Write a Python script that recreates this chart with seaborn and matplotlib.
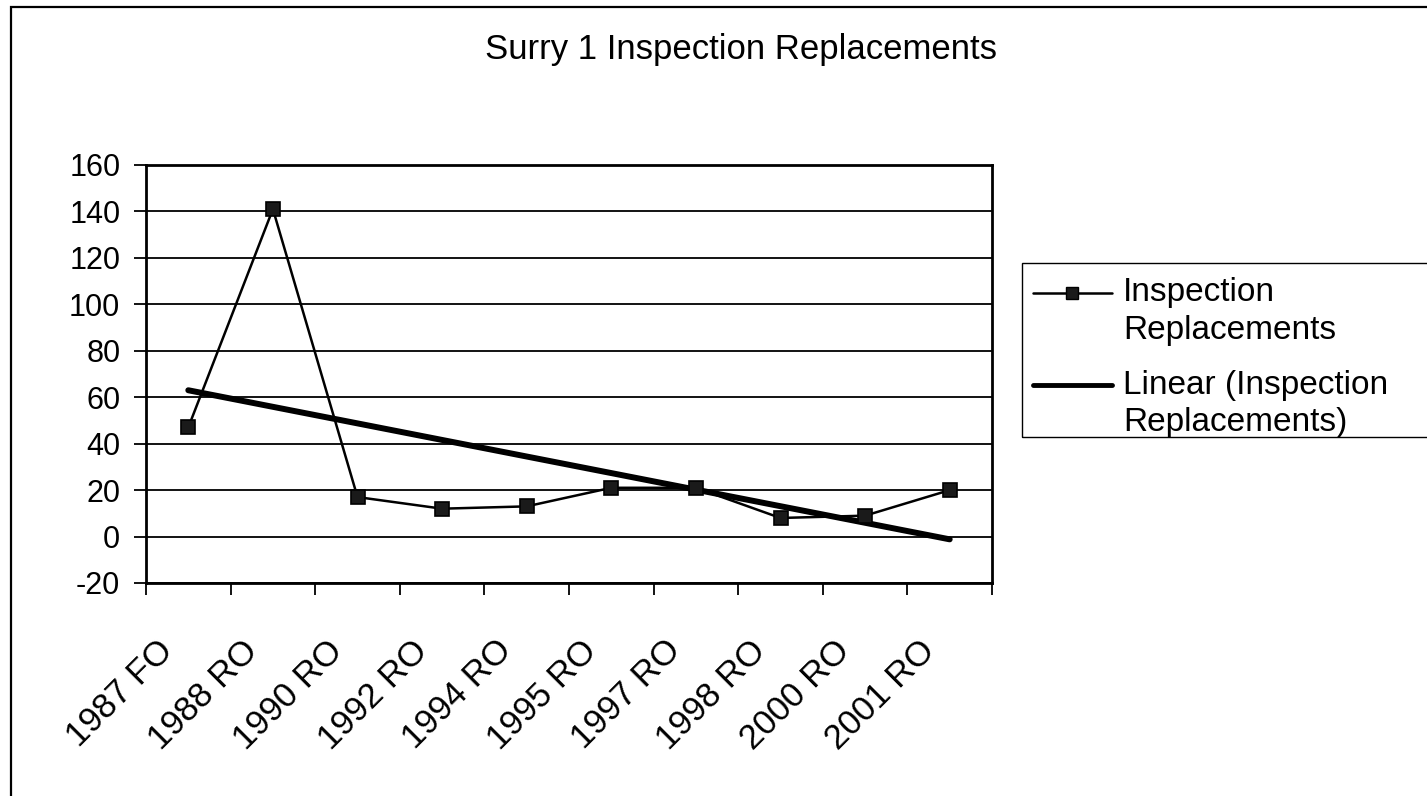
import numpy as np
import pandas as pd
import matplotlib
matplotlib.use("Agg")
import matplotlib.pyplot as plt
import matplotlib.transforms as mtransforms
import seaborn as sns
from matplotlib.lines import Line2D
from matplotlib.patches import Rectangle

categories = ["1987 FO", "1988 RO", "1990 RO", "1992 RO", "1994 RO",
              "1995 RO", "1997 RO", "1998 RO", "2000 RO", "2001 RO"]
replacements = [47, 141, 17, 12, 13, 21, 21, 8, 9, 20]
y_ticks = [-20, 0, 20, 40, 60, 80, 100, 120, 140, 160]
title = "Surry 1 Inspection Replacements"
series_label = "Inspection\nReplacements"
trend_label = "Linear (Inspection\nReplacements)"

sns.set_style("white")
plt.rcParams["font.family"] = ["Liberation Sans", "DejaVu Sans"]
plt.rcParams["text.color"] = "black"
plt.rcParams["xtick.color"] = "black"
plt.rcParams["ytick.color"] = "black"

W, H = 1427, 796
fig = plt.figure(figsize=(W / 100, H / 100), dpi=100)
ax = fig.add_axes([146 / W, 1 - 583 / H, (992 - 146) / W, (583 - 165) / H])

df = pd.DataFrame({"pos": np.arange(len(categories)), "value": replacements})

ax.set_axisbelow(True)
ax.yaxis.grid(True, color="black", linewidth=1.3)

sns.regplot(data=df, x="pos", y="value", ax=ax, scatter=False, ci=None,
            truncate=True, line_kws=dict(color="black", linewidth=4.3, zorder=3))
sns.lineplot(data=df, x="pos", y="value", ax=ax, color="black", linewidth=1.8,
             marker="s", markersize=10.5, markerfacecolor="#1a1a1a",
             markeredgecolor="black", markeredgewidth=1.2, zorder=4)

ax.set_xlim(-0.5, len(categories) - 0.5)
ax.set_ylim(-20, 160)
ax.set_yticks(y_ticks)
ax.set_yticklabels([str(v) for v in y_ticks], fontsize=22)
ax.set_xticks(np.arange(len(categories) + 1) - 0.5)
ax.set_xticklabels([])
ax.set_xticks(np.arange(len(categories)), minor=True)
ax.set_xticklabels(categories, minor=True, fontsize=25, rotation=45,
                   ha="right", va="center", rotation_mode="anchor")
ax.tick_params(axis="x", which="major", direction="out", length=8.5, width=1.3,
               bottom=True)
ax.tick_params(axis="x", which="minor", length=0, pad=45)
ax.tick_params(axis="y", direction="out", length=8.5, width=1.3,
               left=True, pad=10)
shift = mtransforms.ScaledTranslation(-20 / 100, 0, fig.dpi_scale_trans)
for lbl in ax.get_xticklabels(minor=True):
    lbl.set_transform(lbl.get_transform() + shift)
ax.set_xlabel("")
ax.set_ylabel("")
for sp in ax.spines.values():
    sp.set_visible(True)
    sp.set_color("black")
    sp.set_linewidth(2)

# title
fig.text(741 / W, 1 - 50 / H, title, ha="center", va="center", fontsize=25)

# outer border
fig.add_artist(Rectangle((11 / W, -0.05), 1.1, (1 - 7 / H) + 0.05,
                         transform=fig.transFigure, fill=False,
                         edgecolor="black", linewidth=1.6))

# legend (manual, Excel style)
fig.add_artist(Rectangle((1022 / W, 1 - 437 / H), 0.5, (437 - 263) / H,
                         transform=fig.transFigure, fill=False,
                         edgecolor="black", linewidth=1.0))
fig.add_artist(Line2D([1033 / W, 1112 / W], [1 - 293 / H, 1 - 293 / H],
                      transform=fig.transFigure, color="black", linewidth=1.8))
fig.add_artist(Line2D([1072 / W], [1 - 293 / H], transform=fig.transFigure,
                      marker="s", markersize=9, markerfacecolor="#1a1a1a",
                      markeredgecolor="black", linestyle="none"))
fig.add_artist(Line2D([1033 / W, 1112 / W], [1 - 385 / H, 1 - 385 / H],
                      transform=fig.transFigure, color="black", linewidth=3.5))
fs_leg = 24
fig.text(1123 / W, 1 - 293 / H, series_label.split("\n")[0], ha="left", va="center", fontsize=fs_leg)
fig.text(1123 / W, 1 - 331 / H, series_label.split("\n")[1], ha="left", va="center", fontsize=fs_leg)
fig.text(1123 / W, 1 - 385 / H, trend_label.split("\n")[0], ha="left", va="center", fontsize=fs_leg)
fig.text(1123 / W, 1 - 422 / H, trend_label.split("\n")[1], ha="left", va="center", fontsize=fs_leg)

fig.savefig("out.png", dpi=100)
